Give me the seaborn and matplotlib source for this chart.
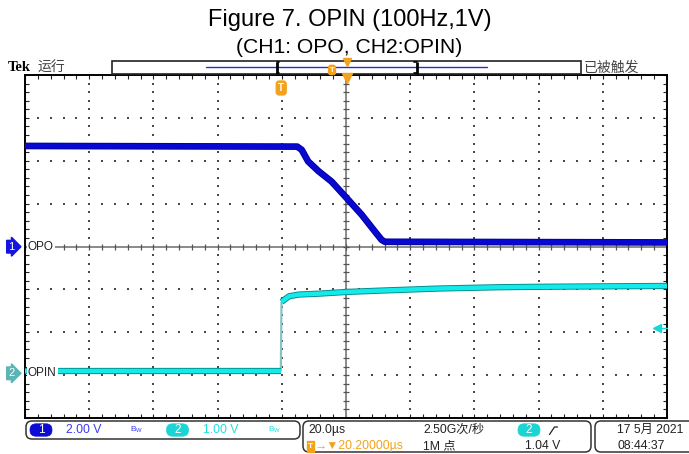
import numpy as np
import pandas as pd
import matplotlib
matplotlib.use('Agg')
import matplotlib.pyplot as plt
import seaborn as sns
from matplotlib.patches import Rectangle, FancyBboxPatch

# ---------------- data ----------------
ch1_time_us = [-79.8, 5.0, 6.4, 8.4, 11.6, 15.7, 20.4, 25.1, 29.2, 31.3, 32.3, 120.2]
ch1_volts = [4.69, 4.66, 4.51, 3.97, 3.52, 3.03, 2.26, 1.48, 0.70, 0.31, 0.22, 0.19]
ch2_low_time_us = [-79.8, -0.1]
ch2_low_volts = [0.04, 0.04]
ch2_high_time_us = [0.1, 2.5, 5.6, 11.8, 20.4, 30.5, 49.2, 67.9, 80.4, 99.1, 120.2]
ch2_high_volts = [1.66, 1.79, 1.83, 1.85, 1.89, 1.92, 1.97, 2.00, 2.01, 2.02, 2.03]
ch1_scale = 2.0      # V/div
ch2_scale = 1.0      # V/div
ch1_offset_div = 0.0
ch2_offset_div = -2.95
trig_level = 1.04    # V on CH2
t_per_div = 20.0     # us/div
t_center = 20.2      # us (trigger position)

sns.set_theme(style='white')
plt.rcParams['font.family'] = ['Liberation Sans', 'Noto Sans CJK SC', 'DejaVu Sans']
SANS = ['Liberation Sans', 'Noto Sans CJK SC', 'DejaVu Sans']
NARROW = ['Liberation Sans Narrow', 'Liberation Sans', 'Noto Sans CJK SC', 'DejaVu Sans']
CJK = ['Noto Sans CJK SC', 'DejaVu Sans']

W, H = 689, 454
fig = plt.figure(figsize=(W / 100, H / 100), dpi=100)
fig.patch.set_facecolor('white')
ax = fig.add_axes([25 / W, 1 - 418 / H, 642 / W, 343 / H])
ax.set_facecolor('white')
ax.set_xlim(t_center - 5 * t_per_div, t_center + 5 * t_per_div)
ax.set_ylim(-4, 4)

# graticule
fine_y = np.arange(-4, 4.001, 0.2)
fine_x = t_center + np.arange(-5, 5.001, 0.2) * t_per_div
dot_c = '#4a4a4a'
for k in [-4, -3, -2, -1, 1, 2, 3, 4]:
    x = t_center + k * t_per_div
    ax.scatter([x] * len(fine_y), fine_y, s=1.4, marker='s', c=dot_c, linewidths=0, zorder=1)
for k in [-3, -2, -1, 1, 2, 3]:
    ax.scatter(fine_x, [k] * len(fine_x), s=1.4, marker='s', c=dot_c, linewidths=0, zorder=1)
cl = '#8a8a8a'
ax.axvline(t_center, color=cl, lw=1.4, zorder=1.5)
ax.axhline(0, color=cl, lw=1.4, zorder=1.5)
ax.plot(fine_x, [0] * len(fine_x), ls='none', marker='|', ms=5, mew=0.9, color='#555555', zorder=1.6)
ax.plot([t_center] * len(fine_y), fine_y, ls='none', marker='_', ms=5, mew=0.9, color='#555555', zorder=1.6)

ax.set_xticks(fine_x)
ax.set_yticks(fine_y)
ax.tick_params(direction='in', length=3, width=0.8, colors='#222222', top=True, right=True,
               bottom=True, left=True, labelbottom=False, labelleft=False)
for s in ax.spines.values():
    s.set_color('black')
    s.set_linewidth(1.4)

# traces
df1 = pd.DataFrame({'t': ch1_time_us, 'd': np.array(ch1_volts) / ch1_scale + ch1_offset_div})
sns.lineplot(data=df1, x='t', y='d', estimator=None, sort=False, color='#00009a', lw=4.8,
             ax=ax, zorder=3, legend=False, solid_capstyle='butt')
sns.lineplot(data=df1, x='t', y='d', estimator=None, sort=False, color='#0808d0', lw=3.6,
             ax=ax, zorder=3.1, legend=False, solid_capstyle='butt')

df2l = pd.DataFrame({'t': ch2_low_time_us, 'd': np.array(ch2_low_volts) / ch2_scale + ch2_offset_div})
df2h = pd.DataFrame({'t': ch2_high_time_us, 'd': np.array(ch2_high_volts) / ch2_scale + ch2_offset_div})
ax.plot([ch2_low_time_us[-1], ch2_high_time_us[0]],
        [ch2_low_volts[-1] / ch2_scale + ch2_offset_div, ch2_high_volts[0] / ch2_scale + ch2_offset_div],
        color='#86c4c4', lw=1.6, zorder=2.9, solid_capstyle='butt')
for d in (df2l, df2h):
    sns.lineplot(data=d, x='t', y='d', estimator=None, sort=False, color='#008a8a', lw=4.5,
                 ax=ax, zorder=3, legend=False, solid_capstyle='butt')
    sns.lineplot(data=d, x='t', y='d', estimator=None, sort=False, color='#14eaea', lw=3.2,
                 ax=ax, zorder=3.1, legend=False, solid_capstyle='butt')
ax.set_xlabel('')
ax.set_ylabel('')

# trigger level marker (right side)
tl = trig_level / ch2_scale + ch2_offset_div
ax.plot([t_center + 4.85 * t_per_div, t_center + 5 * t_per_div], [tl, tl], color='#12d8d8', lw=1.0, zorder=4, clip_on=False)
ax.plot([t_center + 4.85 * t_per_div], [tl], marker='<', ms=6, color='#12d8d8', zorder=4, clip_on=False)

# ---------------- overlay in pixel coordinates ----------------
ov = fig.add_axes([0, 0, 1, 1])
ov.set_xlim(0, W)
ov.set_ylim(H, 0)
ov.axis('off')

ov.text(350, 20, 'Figure 7. OPIN (100Hz,1V)', ha='center', va='center', fontsize=17, family=SANS, color='black')
ov.text(349, 47.5, '(CH1: OPO, CH2:OPIN)', ha='center', va='center', fontsize=15.2, family=SANS, color='black')

ov.text(8, 67.5, 'Tek', ha='left', va='center', fontsize=10.5, family=['Liberation Serif', 'DejaVu Serif'],
        fontweight='bold', color='black')
ov.text(37, 67.5, '运行', ha='left', va='center', fontsize=10, family=CJK, color='#444444')
ov.text(584, 67.5, '已被触发', ha='left', va='center', fontsize=10, family=CJK, color='#444444')

ov.add_patch(Rectangle((112, 61.3), 469, 12.7, fc='white', ec='#222222', lw=1.2))
ov.plot([206, 487], [67.3, 67.3], color='#2a2ae6', lw=1.0)
for bx in (276.5, 416.7):
    ov.plot([bx, bx], [61.8, 73.6], color='black', lw=2.0, solid_capstyle='butt')
ov.plot([276.5, 279], [62, 62], color='black', lw=1.2)
ov.plot([276.5, 279], [73.4, 73.4], color='black', lw=1.2)
ov.plot([414.2, 416.7], [62, 62], color='black', lw=1.2)
ov.plot([414.2, 416.7], [73.4, 73.4], color='black', lw=1.2)
ov.text(332, 70, 'T', ha='center', va='center', fontsize=5.5, family=SANS, color='white', fontweight='bold',
        bbox=dict(boxstyle='round,pad=0.15,rounding_size=0.3', fc='#f3a21c', ec='#f3a21c'))
ov.plot([346.7], [61.8], marker='v', ms=6, color='#f3a21c', ls='none')
ov.plot([346.7], [77.5], marker='v', ms=6.5, color='#f3a21c', ls='none')
ov.text(281.2, 88, 'T', ha='center', va='center', fontsize=7, family=SANS, color='white', fontweight='bold',
        bbox=dict(boxstyle='round,pad=0.2,rounding_size=0.3', fc='#f3a21c', ec='#f3a21c'))

# channel ground markers and labels
ov.text(8, 246.7, '1', ha='left', va='center', fontsize=8, family=SANS, color='white',
        bbox=dict(boxstyle='rarrow,pad=0.12', fc='#1414e0', ec='#1414e0'))
ov.text(28, 246.7, 'OPO', ha='left', va='center', fontsize=8.5, family=NARROW, color='#222222',
        bbox=dict(boxstyle='square,pad=0.1', fc='white', ec='none'))
ov.text(8, 373.3, '2', ha='left', va='center', fontsize=8, family=SANS, color='white',
        bbox=dict(boxstyle='rarrow,pad=0.12', fc='#5cb5b5', ec='#5cb5b5'))
ov.text(28, 373.3, 'OPIN', ha='left', va='center', fontsize=8.5, family=NARROW, color='#222222',
        bbox=dict(boxstyle='square,pad=0.1', fc='white', ec='none'))

# bottom status boxes
for (x0, y0, w, h) in [(26, 421, 274, 18), (303, 421, 288, 31), (595, 421, 110, 31)]:
    ov.add_patch(FancyBboxPatch((x0, y0), w, h, boxstyle='round,pad=0,rounding_size=6',
                                fc='white', ec='#333333', lw=1.1))


def badge(xc, yc, label, color):
    ov.add_patch(FancyBboxPatch((xc - 11, yc - 6.2), 22, 12.4, boxstyle='round,pad=0,rounding_size=6',
                                fc=color, ec=color, lw=0.5))
    ov.text(xc, yc, label, ha='center', va='center', fontsize=8.5, family=SANS, color='white')


blue_t = '#3a3af0'
cyan_t = '#22dede'
badge(41, 430, '1', '#0c0cd4')
ov.text(66, 430, '2.00 V', ha='left', va='center', fontsize=8.8, family=NARROW, color=blue_t)
ov.text(130, 430, r'B$_{\mathregular{W}}$', ha='left', va='center', fontsize=6, family=NARROW, color=blue_t)
badge(177.5, 430, '2', '#1cd4d4')
ov.text(203, 430, '1.00 V', ha='left', va='center', fontsize=8.8, family=NARROW, color=cyan_t)
ov.text(268, 430, r'B$_{\mathregular{W}}$', ha='left', va='center', fontsize=6, family=NARROW, color=cyan_t)

ov.text(308, 430, '20.0µs', ha='left', va='center', fontsize=8.8, family=NARROW, color='#222222')
ov.text(423, 430, '2.50G次/秒', ha='left', va='center', fontsize=8.8, family=NARROW, color='#222222')
badge(529, 430, '2', '#1cd4d4')
ov.plot([549.5, 554.5, 557.5], [434.5, 427, 427], color='#222222', lw=0.9)
orange = '#f3a21c'
ov.add_patch(Rectangle((306.5, 440.5), 7, 11, fc=orange, ec=orange))
ov.text(310, 446, 'T', ha='center', va='center', fontsize=6, family=SANS, color='white', fontweight='bold')
ov.text(314.5, 446, '→▼20.20000µs', ha='left', va='center', fontsize=8.8,
        family=['Liberation Sans', 'DejaVu Sans'], color=orange)
ov.text(423, 446, '1M 点', ha='left', va='center', fontsize=8.8, family=NARROW, color='#222222')
ov.text(525, 446, '1.04 V', ha='left', va='center', fontsize=8.8, family=NARROW, color='#222222')
ov.text(617, 430, '17 5月 2021', ha='left', va='center', fontsize=8.8, family=NARROW, color='#222222')
ov.text(617, 446, '08:44:37', ha='left', va='center', fontsize=8.8, family=NARROW, color='#222222')

fig.savefig('out.png', dpi=100)
